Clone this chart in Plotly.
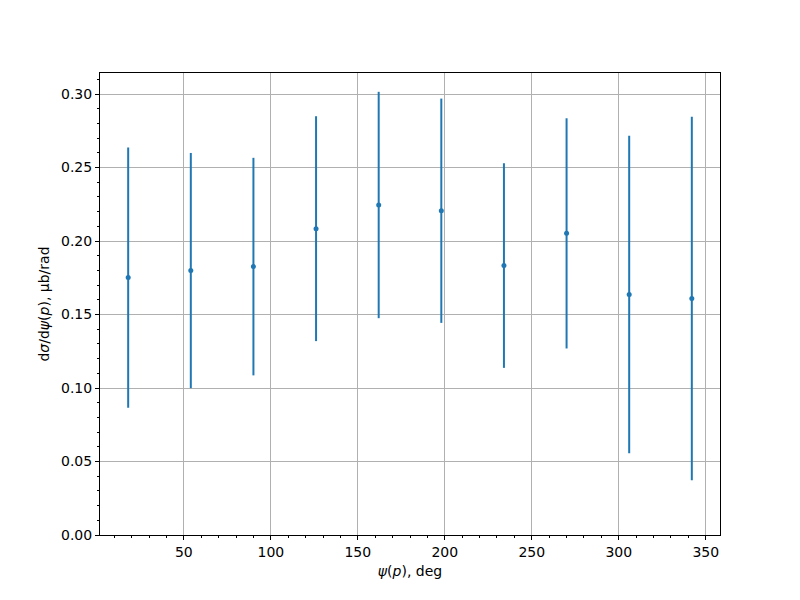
import plotly.graph_objects as go

psi_deg = [18, 54, 90, 126, 162, 198, 234, 270, 306, 342]
dsigma = [0.1751, 0.1799, 0.1826, 0.2084, 0.2245, 0.2206, 0.1833, 0.2052, 0.1636, 0.1609]
err = [0.0886, 0.0800, 0.0740, 0.0765, 0.0770, 0.0763, 0.0696, 0.0783, 0.1080, 0.1236]

blue = "#1f77b4"
fig = go.Figure()
fig.add_trace(go.Scatter(
    x=psi_deg, y=dsigma, mode="markers",
    marker=dict(color=blue, size=5),
    error_y=dict(type="data", array=err, visible=True, color=blue, thickness=2, width=0),
    showlegend=False,
))

axis_common = dict(
    showline=True, linecolor="black", linewidth=1, mirror=True,
    ticks="outside", ticklen=4, tickwidth=1, tickcolor="black",
    showgrid=True, gridcolor="#b0b0b0", gridwidth=1, zeroline=False,
    tickfont=dict(size=14, color="black"), automargin=False,
)
fig.update_xaxes(
    range=[1.8, 358.2], tick0=0, dtick=50,
    minor=dict(ticks="outside", ticklen=2, dtick=10, tick0=0, tickcolor="black", showgrid=False),
    title=dict(text="<i>ψ</i>(<i>p</i>), deg", font=dict(size=14, color="black"), standoff=7),
    **axis_common,
)
fig.update_yaxes(
    range=[0, 0.3143], tick0=0, dtick=0.05, tickformat=".2f",
    minor=dict(ticks="outside", ticklen=2, dtick=0.01, tick0=0, tickcolor="black", showgrid=False),
    title=dict(text="d<i>σ</i>/d<i>ψ</i>(<i>p</i>), μb/rad", font=dict(size=14, color="black"), standoff=8),
    **axis_common,
)
fig.update_layout(
    width=800, height=600,
    margin=dict(l=92, r=88, t=65, b=73),
    plot_bgcolor="white", paper_bgcolor="white",
    font=dict(family="DejaVu Sans", size=14, color="black"),
)
fig.write_html("out.html")
